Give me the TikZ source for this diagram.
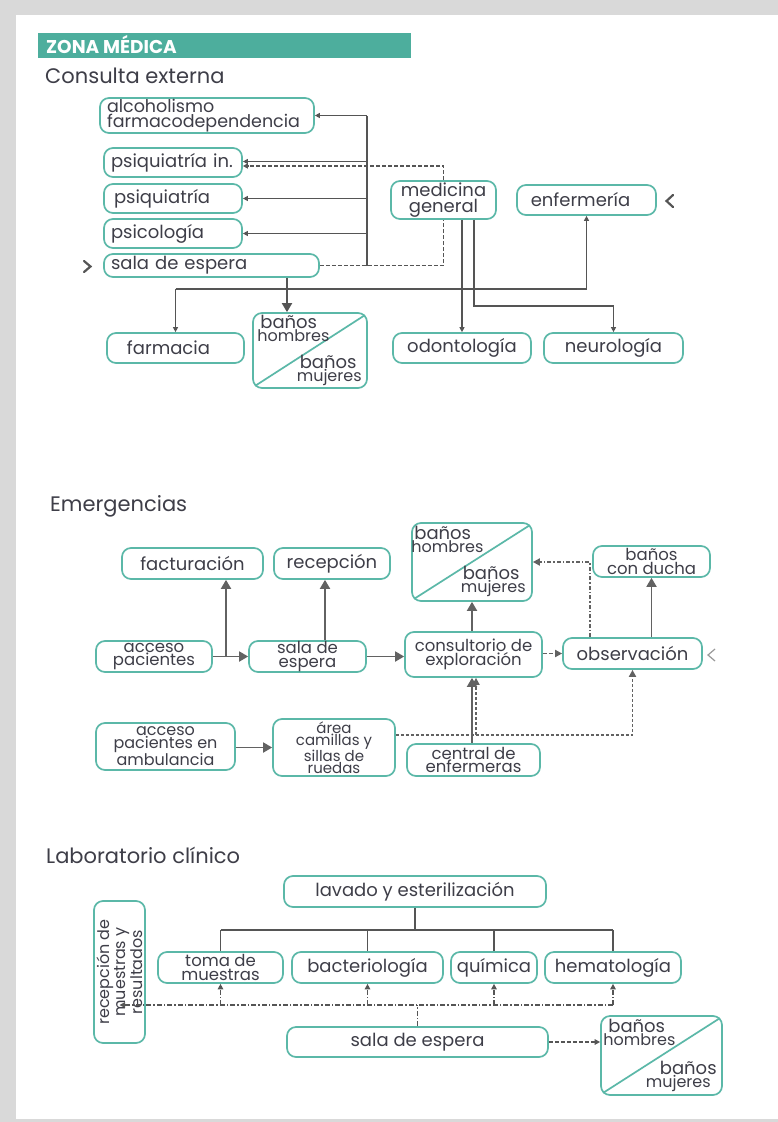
\documentclass[tikz,border=0pt]{standalone}
\usepackage{fontspec}
\setmainfont{Poppins}
\usetikzlibrary{arrows.meta}
\definecolor{teal1}{HTML}{5BB8A8}
\definecolor{headteal}{HTML}{4DAE9D}
\definecolor{ink}{HTML}{3E3E48}
\definecolor{wire}{HTML}{555555}
\definecolor{wire2}{HTML}{626262}
\definecolor{framegray}{HTML}{D9D9D9}
\begin{document}
\begin{tikzpicture}[x=1pt,y=-1pt,
  box/.style={draw=teal1,line width=1.7pt,rounded corners=9pt,fill=white,inner sep=0pt,
    align=center,text=ink,font=\fontsize{18}{14}\selectfont},
  lbox/.style={box,align=left,inner xsep=7pt,text width=#1pt},
  sz/.style 2 args={minimum width=#1pt,minimum height=#2pt},
  two/.style={font=\fontsize{16.5}{13.5}\selectfont},
  three/.style={font=\fontsize{16}{12.8}\selectfont},
  four/.style={font=\fontsize{15}{12}\selectfont},
  title/.style={anchor=base west,inner sep=0pt,text=ink,font=\fontsize{21}{24}\selectfont},
  ln/.style={draw=wire,line width=1.1pt},
  tarr/.style={ln,-{Triangle[length=5pt,width=5pt]}},
  dln/.style={draw=wire,line width=1.7pt,dash pattern=on 4pt off 2pt},
  darr/.style={dln,-{Triangle[length=5pt,width=5pt]}},
  barr/.style={draw=wire,line width=1.8pt,-{Triangle[length=9pt,width=10pt]}},
  earr/.style={draw=wire2,line width=1.8pt,-{Triangle[length=9pt,width=10pt]}},
  edarr/.style={draw=wire2,line width=1.7pt,dash pattern=on 4pt off 2pt,-{Triangle[length=7pt,width=7pt]}},
  ddarr/.style={draw=wire2,line width=1.7pt,dash pattern=on 4pt off 2pt on 1.5pt off 2pt,-{Triangle[length=7pt,width=7pt]}},
  ddln/.style={draw=wire,line width=1.7pt,dash pattern=on 5pt off 2pt on 1.5pt off 2pt},
  ddsm/.style={ddln,-{Triangle[length=5.5pt,width=5.5pt]}},
  chev/.style={draw=wire,line width=2.2pt,line cap=round,line join=miter},
  diag/.style={draw=teal1,line width=1.7pt},
  btop/.style={anchor=north west,inner sep=0pt,align=left,text=ink,font=\fontsize{18}{13}\selectfont},
  bbot/.style={anchor=south east,inner sep=0pt,align=left,text=ink,font=\fontsize{18}{13}\selectfont}
]
% page frame
\fill[framegray] (0,0) rectangle (778,1122);
\fill[white] (16,15) rectangle (778,1119);
\useasboundingbox (0,0) rectangle (778,1122);

% header
\fill[headteal] (38,33) rectangle (411,58);
\node[anchor=base west,inner sep=0pt,text=white,font=\fontsize{18.5}{20}\selectfont\bfseries] (hdr) at (46,53.5) {ZONA MÉDICA};

% ---------------- Consulta externa ----------------
\node[title] (t1) at (45,83) {Consulta externa};

\node[lbox=200,sz={214}{35},font=\fontsize{17.5}{15}\selectfont] (alc) at (207,115.5) {alcoholismo\\farmacodependencia};
\node[lbox=124,sz={138}{29}] (psiin) at (173,162.5) {psiquiatría in.};
\node[lbox=124,sz={138}{29}] (psiq) at (173,198.5) {\hspace{3pt}psiquiatría};
\node[lbox=124,sz={138}{29}] (psico) at (173,233.5) {psicología};
\node[lbox=201,sz={215}{23}] (sala1) at (211.5,265.5) {sala de espera};
\node[box,sz={105}{38},font=\fontsize{18}{15.5}\selectfont] (medgen) at (443.5,200) {medicina\\general};
\node[box,sz={139}{30}] (enf) at (586.5,200) {enfermería\hspace{12pt}};
\node[box,sz={137}{30}] (farm) at (175.5,348) {farmacia\hspace{14pt}};
\node[box,sz={114}{75}] (banos1) at (310,350.5) {};
\node[box,sz={138}{30}] (odon) at (462,348) {odontología};
\node[box,sz={139}{30}] (neuro) at (613.5,348) {neurología};

\draw[diag] ([shift={(3,-3)}]banos1.south west) -- ([shift={(-3,3)}]banos1.north east);
\node[btop] (b1h) at ([shift={(5,3)}]banos1.north west) {\hspace{3pt}baños\\{\fontsize{16}{13}\selectfont hombres}};
\node[bbot] (b1m) at ([shift={(-6,-3)}]banos1.south east) {\hspace{3pt}baños\\{\fontsize{16}{13}\selectfont mujeres}};

% entry marks
\draw[chev] (84,261) -- (90.5,266.5) -- (84,272);
\draw[chev] (673,195) -- (666.5,201) -- (673,207);

% trunk feeding the consulting rooms
\coordinate (tb) at (367,266);
\coordinate (tt) at (367,115.5);
\draw[ln] (tb) -- (tt);
\draw[tarr] (tt) -- (alc.east);
\draw[tarr] ([shift={(0,-1)}]psiin.east -| tb) -- ([shift={(0,-1)}]psiin.east);
\draw[tarr] (psiq.east -| tb) -- (psiq.east);
\draw[tarr] (psico.east -| tb) -- (psico.east);

% dashed links of medicina general
\coordinate (mgtop) at (443.5,166);
\draw[darr] (medgen.north) -- (mgtop) -- (mgtop -| psiin.east);
\draw[dln] (sala1.east) -| (medgen.south);

% waiting room to services below
\coordinate (s1drop) at (287,0);
\draw[barr] (sala1.south -| s1drop) -- (banos1.north -| s1drop);
\coordinate (hbar) at (0,289);
\draw[tarr] (farm.north |- hbar) -- (farm.north);
\draw[tarr] (farm.north |- hbar) -| (enf.south);

% medicina general to odontologia and neurologia
\draw[tarr] (medgen.south -| odon.north) -- (odon.north);
\coordinate (mg2) at (474,306);
\draw[tarr] (medgen.south -| mg2) -- (mg2) -| (neuro.north);

% ---------------- Emergencias ----------------
\node[title] (t2) at (50,511) {Emergencias};

\node[box,sz={141}{31}] (fact) at (192.5,563.5) {facturación};
\node[box,sz={116}{31}] (recep) at (332,563.5) {recepción};
\node[box,sz={116}{31},two] (accp) at (154,656.5) {acceso\\pacientes};
\node[box,sz={117}{31},two] (salae) at (307.5,656.5) {sala de\\espera};
\node[box,sz={137}{45},two] (cons) at (473.5,654.5) {consultorio de\\exploración};
\node[box,sz={120}{78}] (banos2) at (472,562) {};
\node[box,sz={117}{31},two] (ducha) at (651.5,561.5) {baños\\con ducha};
\node[box,sz={139}{31}] (obs) at (632.5,653.5) {observación};
\node[box,sz={139}{47},three] (amb) at (165.5,746.5) {acceso\\pacientes en\\ambulancia};
\node[box,sz={122}{57},four] (cam) at (334,747.5) {área\\camillas y\\sillas de\\ruedas};
\node[box,sz={133}{32},two] (central) at (473.5,760) {central de\\enfermeras};

\draw[diag] ([shift={(3,-3)}]banos2.south west) -- ([shift={(-3,3)}]banos2.north east);
\node[btop] (b2h) at ([shift={(0,4)}]banos2.north west) {\hspace{3pt}baños\\{\fontsize{16}{13}\selectfont hombres}};
\node[bbot] (b2m) at ([shift={(-7,-5)}]banos2.south east) {\hspace{2pt}baños\\{\fontsize{16}{13}\selectfont mujeres}};

\draw[draw=gray!80,line width=1.2pt] (715,649) -- (708,655) -- (715,661);

\coordinate (fup) at (226,0);
\coordinate (rup) at (325,0);
\draw[earr] (accp.east) -- (salae.west);
\draw[earr] (accp.east -| fup) -- (fact.south -| fup);
\draw[earr] (salae.north -| rup) -- (recep.south -| rup);
\draw[earr] (salae.east) -- (salae.east -| cons.west);
\draw[earr] (cons.north -| banos2.south) -- (banos2.south);
\draw[edarr] (cons.east |- obs.west) -- (obs.west);
\coordinate (od) at (590,0);
\draw[ddarr] (obs.north -| od) |- (banos2.east);
\draw[earr] (obs.north -| ducha.south) -- (ducha.south);
\draw[earr] (amb.east |- cam.west) -- (cam.west);
\coordinate (cdy) at (0,735);
\draw[edarr,dash pattern=on 3pt off 2pt] (cam.east |- cdy) -| (obs.south);
\draw[earr] (central.north -| banos2.south) -- (cons.south -| banos2.south);
\coordinate (cdx) at (476,0);
\draw[edarr,dash pattern=on 3pt off 2pt] (cdy -| cdx) -- (cons.south -| cdx);

% ---------------- Laboratorio clinico ----------------
\node[title] (t3) at (46,863) {Laboratorio clínico};

\node[box,sz={262}{31}] (lav) at (415,891.5) {lavado y esterilización};
\node[box,sz={142}{51},rotate=90,font=\fontsize{16}{14}\selectfont] (recres) at (119.5,972) {recepción de\\muestras y\\resultados};
\node[box,sz={125}{31},two] (toma) at (220.5,967.5) {toma de\\muestras};
\node[box,sz={151}{31}] (bact) at (367.5,967.5) {bacteriología};
\node[box,sz={86}{31}] (quim) at (494,967.5) {química};
\node[box,sz={136}{31}] (hema) at (613,967.5) {hematología};
\node[box,sz={261}{30}] (sala3) at (417.5,1042) {sala de espera};
\node[box,sz={121}{79}] (banos3) at (661.5,1055.5) {};

\draw[diag] ([shift={(3,-3)}]banos3.south west) -- ([shift={(-3,3)}]banos3.north east);
\node[btop] (b3h) at ([shift={(3,4)}]banos3.north west) {\hspace{5pt}baños\\{\fontsize{16}{13}\selectfont hombres}};
\node[bbot] (b3m) at ([shift={(-6,-4)}]banos3.south east) {\hspace{14pt}baños\\{\fontsize{16}{13}\selectfont mujeres}};

% washing area feeds the four labs
\coordinate (lbar) at (0,930);
\draw[ln] (lav.south) -- (lav.south |- lbar);
\draw[ln] (toma.north |- lbar) -- (hema.north |- lbar);
\foreach \n in {toma,bact,quim,hema}
  \draw[ln] (\n.north |- lbar) -- (\n.north);

% waiting room distribution
\coordinate (dbar) at (0,1005);
\draw[ddln] (sala3.north) -- (sala3.north |- dbar);
\draw[ddsm] (hema.south |- dbar) -- (recres.east |- dbar);
\foreach \n in {toma,bact,quim,hema}
  \draw[ddsm] (\n.south |- dbar) -- (\n.south);
\draw[ddsm,dash pattern=on 4pt off 2pt] (sala3.east) -- (sala3.east -| banos3.west);
\end{tikzpicture}
\end{document}
